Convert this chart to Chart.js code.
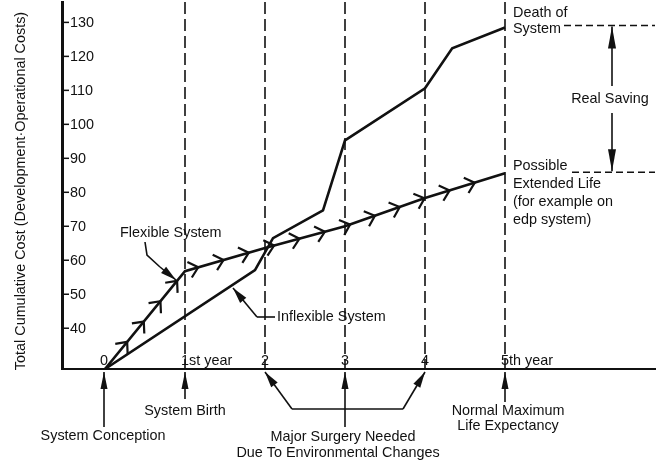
<!DOCTYPE html>
<html>
<head>
<meta charset="utf-8">
<script src="https://cdn.jsdelivr.net/npm/chart.js@4.4.0/dist/chart.umd.min.js"></script>
<style>
  html, body { margin: 0; padding: 0; background: #fff; }
</style>
</head>
<body>
<canvas id="chart" width="662" height="462"></canvas>
<script>
// eje x: años de vida del sistema; eje y: coste acumulado
const yearTicks = [0, 1, 2, 3, 4, 5];
const yearLabels = ['0', '1st year', '2', '3', '4', '5th year'];
const costTicks = [40, 50, 60, 70, 80, 90, 100, 110, 120, 130];
const yTitle = 'Total Cumulative Cost (Development·Operational Costs)';

// sistema inflexible (cirugía mayor en los años 2, 3 y 4)
const inflexYears = [0, 1.875, 2.1, 2.725, 3, 4, 4.34, 5];
const inflexCost = [28, 57.1, 66.5, 74.7, 95.3, 110.6, 122.4, 128.5];

// sistema flexible
const flexYears = [0, 1, 2, 3, 4, 5];
const flexCost = [28, 56.8, 63.6, 70.0, 78.3, 85.6];

// líneas de referencia verticales
const guideYears = [1, 2, 3, 4, 5];

const INK = '#111';
const FAMILY = '"Liberation Sans", Arial, Helvetica, sans-serif';
const FONT = '14.4px ' + FAMILY;
const Y_MIN = 28, Y_MAX = 136;

const pts = (xs, ys) => xs.map((x, i) => ({ x, y: ys[i] }));

function seg(ctx, x1, y1, x2, y2) {
    ctx.beginPath(); ctx.moveTo(x1, y1); ctx.lineTo(x2, y2); ctx.stroke();
}

// flecha rellena con la punta en (x2, y2)
function arrow(ctx, x1, y1, x2, y2, len = 15, half = 3.5) {
    seg(ctx, x1, y1, x2, y2);
    const d = Math.hypot(x2 - x1, y2 - y1);
    const ux = (x2 - x1) / d, uy = (y2 - y1) / d;
    ctx.beginPath();
    ctx.moveTo(x2, y2);
    ctx.lineTo(x2 - ux * len - uy * half, y2 - uy * len + ux * half);
    ctx.lineTo(x2 - ux * len + uy * half, y2 - uy * len - ux * half);
    ctx.closePath();
    ctx.fill();
}

function text(ctx, s, x, y, align = 'left') {
    ctx.textAlign = align;
    ctx.fillText(s, x, y);
}

const notes = {
    id: 'notes',
    afterDatasetsDraw(chart) {
        const { ctx, chartArea: a, scales: { x, y } } = chart;
        ctx.save();
        ctx.strokeStyle = INK;
        ctx.fillStyle = INK;
        ctx.font = FONT;
        ctx.textBaseline = 'middle';

        // título del eje y, girado
        ctx.save();
        ctx.translate(21, 191);
        ctx.rotate(-Math.PI / 2);
        text(ctx, yTitle, 0, 0, 'center');
        ctx.restore();

        // marcas y rótulos del eje y (hacia dentro)
        ctx.lineWidth = 1.5;
        y.ticks.forEach(t => {
            const py = y.getPixelForValue(t.value);
            seg(ctx, a.left, py, a.left + 7, py);
            text(ctx, String(t.value), a.left + 8, py + 1);
        });

        // chevrones sobre la curva flexible
        const p = chart.getDatasetMeta(1).data.map(e => ({ x: e.x, y: e.y }));
        const lens = [];
        let total = 0;
        for (let i = 1; i < p.length; i++) {
            const l = Math.hypot(p[i].x - p[i - 1].x, p[i].y - p[i - 1].y);
            lens.push(l); total += l;
        }
        ctx.lineWidth = 2.2;
        for (let s = 32; s < total - 18; s += 26.3) {
            let k = 0, acc = 0;
            while (acc + lens[k] < s) { acc += lens[k]; k++; }
            const f = (s - acc) / lens[k];
            const ux = (p[k + 1].x - p[k].x) / lens[k], uy = (p[k + 1].y - p[k].y) / lens[k];
            const cx = p[k].x + (p[k + 1].x - p[k].x) * f;
            const cy = p[k].y + (p[k + 1].y - p[k].y) * f;
            ctx.beginPath();
            ctx.moveTo(cx - ux * 6 - uy * 8, cy - uy * 6 + ux * 8);
            ctx.lineTo(cx + ux * 3, cy + uy * 3);
            ctx.lineTo(cx - ux * 6 + uy * 8, cy - uy * 6 - ux * 8);
            ctx.stroke();
        }

        // rótulos del eje x, encima de la línea
        const lx = a.bottom - 8;
        yearTicks.forEach((v, i) => {
            const px = x.getPixelForValue(v);
            if (i === 0) text(ctx, yearLabels[i], px - 1, lx, 'center');
            else if (i === 1 || i === 5) text(ctx, yearLabels[i], px - 4, lx, 'left');
            else text(ctx, yearLabels[i], px, lx, 'center');
        });

        // flechas bajo el eje
        ctx.lineWidth = 1.6;
        const tip = a.bottom + 3;
        const x0 = x.getPixelForValue(0), x1 = x.getPixelForValue(1);
        const x2 = x.getPixelForValue(2), x3 = x.getPixelForValue(3);
        const x4 = x.getPixelForValue(4), x5 = x.getPixelForValue(5);
        arrow(ctx, x0 - 1, 427, x0 - 1, tip, 17, 3.5);
        arrow(ctx, x1, 399, x1, tip, 17, 3.5);
        arrow(ctx, x5, 402, x5, tip, 17, 3.5);
        // corchete de cirugía mayor
        seg(ctx, x2 + 27, 409, x4 - 22, 409);
        arrow(ctx, x2 + 27, 409, x2, tip, 16, 4);
        arrow(ctx, x4 - 22, 409, x4, tip, 16, 4);
        arrow(ctx, x3, 427, x3, tip, 17, 3.5);

        text(ctx, 'System Conception', x0 - 2, 436, 'center');
        text(ctx, 'System Birth', x1, 411, 'center');
        text(ctx, 'Major Surgery Needed', x3 - 2, 437, 'center');
        text(ctx, 'Due To Environmental Changes', x3 - 7, 453, 'center');
        text(ctx, 'Normal Maximum', x5 + 3, 411, 'center');
        text(ctx, 'Life Expectancy', x5 + 3, 426, 'center');

        // etiquetas de las curvas
        text(ctx, 'Flexible System', 120, 233);
        ctx.beginPath();
        ctx.moveTo(145, 242); ctx.lineTo(147, 255); ctx.lineTo(160, 267);
        ctx.stroke();
        arrow(ctx, 160, 267, 176, 280, 16, 4);

        text(ctx, 'Inflexible System', 277, 317);
        seg(ctx, 275, 317, 257, 317);
        arrow(ctx, 257, 317, 233, 288, 16, 4);

        // extremos a la derecha
        const yDeath = y.getPixelForValue(inflexCost[inflexCost.length - 1]) - 2;
        const yExt = y.getPixelForValue(flexCost[flexCost.length - 1]) - 1;
        text(ctx, 'Death of', x5 + 8, 13);
        text(ctx, 'System', x5 + 8, 29);
        text(ctx, 'Possible', x5 + 8, 166);
        text(ctx, 'Extended Life', x5 + 8, 184);
        text(ctx, '(for example on', x5 + 8, 202);
        text(ctx, 'edp system)', x5 + 8, 220);

        ctx.setLineDash([7, 4]);
        seg(ctx, 564, yDeath, a.right, yDeath);
        seg(ctx, 572, yExt, a.right, yExt);
        ctx.setLineDash([]);

        // ahorro real
        const xs = 612;
        arrow(ctx, xs, 86, xs, yDeath + 1, 22, 4);
        arrow(ctx, xs, 113, xs, yExt - 1, 22, 4);
        text(ctx, 'Real Saving', xs - 2, 99, 'center');

        ctx.restore();
    }
};

const lineStyle = { borderColor: INK, borderWidth: 2.6, pointRadius: 0, tension: 0, fill: false };

new Chart(document.getElementById('chart'), {
    type: 'line',
    data: {
        datasets: [
            { label: 'Inflexible System', data: pts(inflexYears, inflexCost), ...lineStyle },
            { label: 'Flexible System', data: pts(flexYears, flexCost), ...lineStyle },
            ...guideYears.map(g => ({
                label: 'year ' + g,
                data: [{ x: g, y: Y_MAX }, { x: g, y: Y_MIN }],
                borderColor: INK, borderWidth: 1.6, borderDash: [12, 5], pointRadius: 0
            }))
        ]
    },
    options: {
        responsive: false,
        animation: false,
        devicePixelRatio: 1,
        layout: { padding: { left: 62, top: 2, right: 7, bottom: 93 } },
        plugins: { legend: { display: false }, tooltip: { enabled: false } },
        scales: {
            x: {
                type: 'linear', min: -0.5375, max: 6.875,
                grid: { drawOnChartArea: false, drawTicks: false },
                border: { color: INK, width: 2 },
                ticks: { display: false }
            },
            y: {
                type: 'linear', min: Y_MIN, max: Y_MAX,
                afterBuildTicks: s => { s.ticks = costTicks.map(v => ({ value: v })); },
                grid: { drawOnChartArea: false, drawTicks: false },
                border: { color: INK, width: 3 },
                ticks: { display: false }
            }
        }
    },
    plugins: [notes]
});
</script>
</body>
</html>
